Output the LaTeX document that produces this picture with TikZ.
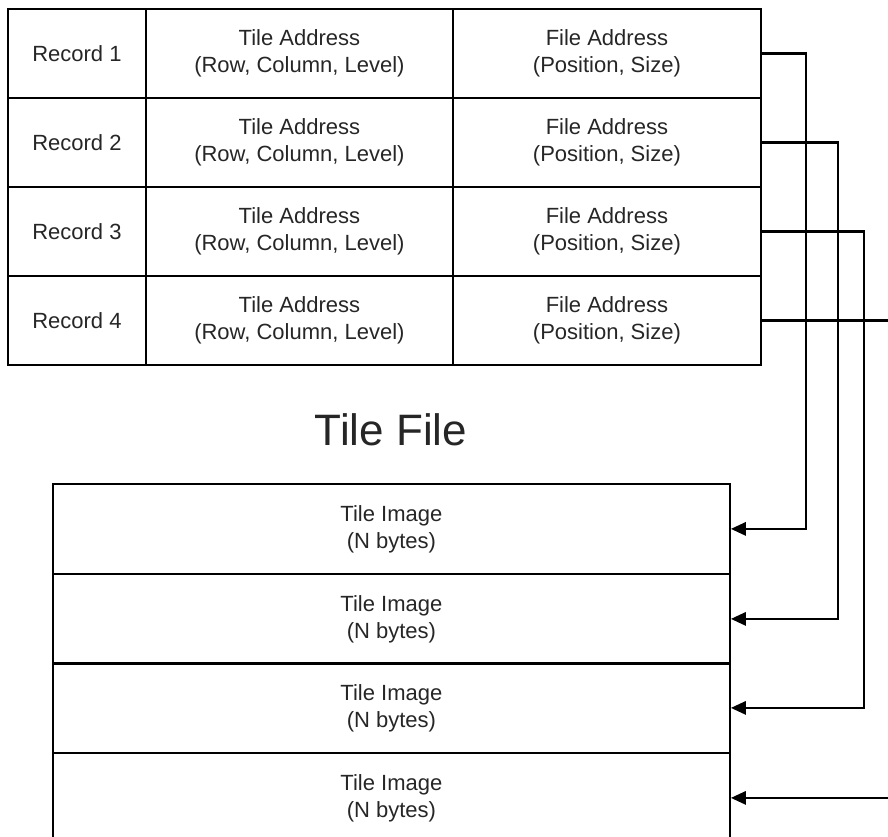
\documentclass[tikz,border=0pt]{standalone}
\usepackage{fontspec}
\setmainfont{Liberation Sans}
\usetikzlibrary{arrows.meta, positioning}

\begin{document}
\begin{tikzpicture}[x=1pt, y=-1pt,
    cell/.style={draw, line width=1.8pt, inner sep=0pt, anchor=north west,
        minimum height=89pt, align=center, text=black!85,
        font=\fontsize{22}{27}\selectfont},
    link/.style={line width=2.8pt, -{Triangle[length=15pt, width=13pt]}}]

    % =================================================================
    % 1. KHUNG HINH
    % =================================================================
    \useasboundingbox (0,0) rectangle (888,837);
    \clip (0,0) rectangle (888,837);

    % =================================================================
    % 2. BANG CHI MUC (4 BAN GHI)
    % =================================================================
    \foreach \i/\y in {1/8, 2/97, 3/186, 4/275} {
        \node[cell, minimum width=138pt] (rec\i) at (7,\y) {Record \i};
        \node[cell, minimum width=307pt] (ta\i) at (145,\y) {Tile Address\\(Row, Column, Level)};
        \node[cell, minimum width=308pt] (fa\i) at (452,\y) {File Address\\(Position, Size)};
    }

    % Tieu de
    \node[text=black!85, font=\fontsize{44}{50}\selectfont] (title) at (391,430) {Tile File};

    % =================================================================
    % 3. TEP ANH (4 O ANH)
    % =================================================================
    \foreach \i/\y in {1/483, 2/573, 3/662, 4/752} {
        \node[cell, minimum width=677pt, minimum height=90pt] (img\i) at (52,\y) {Tile Image\\(N bytes)};
    }

    % =================================================================
    % 4. DUONG NOI TU DIA CHI TEP DEN ANH
    % =================================================================
    \foreach \i/\x in {1/806, 2/838, 3/864, 4/900} {
        \coordinate (bus\i) at (\x,400);
        \draw[link] (fa\i.east) -| (bus\i) |- (img\i.east);
    }

\end{tikzpicture}
\end{document}
